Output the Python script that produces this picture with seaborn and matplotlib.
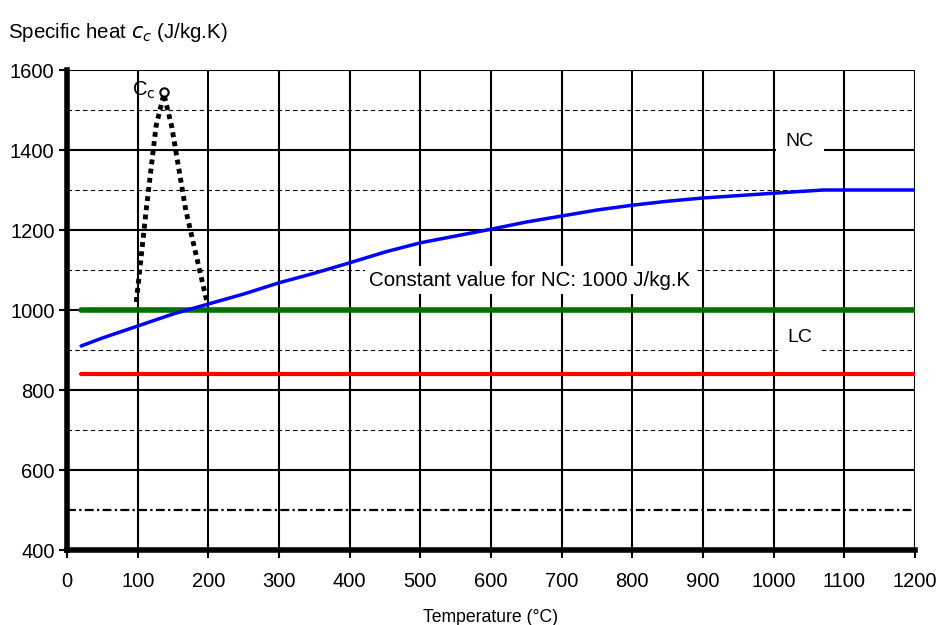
import matplotlib
matplotlib.use("Agg")
from matplotlib import pyplot as plt
import numpy as np
import pandas as pd
import seaborn as sns

# NC specific heat curve
temp_nc = [20, 50, 100, 150, 200, 250, 300, 350, 400, 450, 500, 550, 600, 650, 700, 750, 800, 850, 900, 950, 1000, 1070, 1200]
cp_nc = [910, 930, 960, 990, 1015, 1040, 1068, 1092, 1118, 1145, 1168, 1185, 1202, 1220, 1235, 1250, 1262, 1272, 1280, 1286, 1292, 1300, 1300]

# moisture peak (dotted)
temp_peak = [98, 112, 126, 137, 148, 168, 198]
cp_peak = [1020, 1250, 1460, 1540, 1460, 1250, 1020]

temp_range = [20, 1200]
cp_const_nc = 1000
cp_lc = 840

sns.set_style("white")
plt.rcParams['font.family'] = ['Liberation Sans', 'DejaVu Sans']
plt.rcParams['text.color'] = 'black'
plt.rcParams['axes.labelcolor'] = 'black'
plt.rcParams['xtick.color'] = 'black'
plt.rcParams['ytick.color'] = 'black'

fig = plt.figure(figsize=(9.43, 6.25), dpi=100)
ax = fig.add_axes([0.0711, 0.12, 0.8992, 0.768])

# grid
for y in [700, 900, 1100, 1300, 1500]:
    ax.axhline(y, color='black', lw=0.8, ls=(0, (4, 3)), zorder=1)
ax.axhline(500, color='black', lw=1.6, ls=(0, (4, 1.5, 1, 1.5)), zorder=1)
for y in [600, 800, 1000, 1200, 1400, 1600]:
    ax.axhline(y, color='black', lw=1.5, zorder=1)
for x in range(100, 1300, 100):
    ax.axvline(x, color='black', lw=1.5, zorder=1)

ax.plot(temp_range, [cp_const_nc] * 2, color='#007000', lw=4, zorder=3)
ax.plot(temp_range, [cp_lc] * 2, color='#ff0000', lw=3, zorder=3)

sns.lineplot(x=temp_nc, y=cp_nc, ax=ax, color='#0000ff', lw=2.5, zorder=4)
sns.lineplot(x=temp_peak, y=cp_peak, ax=ax, color='black', lw=3.5, ls=(0, (1, 0.9)), zorder=4)
ax.plot([temp_peak[3]], [cp_peak[3] + 5], marker='o', ms=6, mfc='white', mec='black', mew=1.5, zorder=5)

box = dict(facecolor='white', edgecolor='none', pad=3)
ax.text(108, 1550, r'C$_{\rm c}$', fontsize=14.5, ha='center', va='center', zorder=6)
ax.text(1037, 1422, 'NC', fontsize=14, ha='center', va='center', bbox=dict(facecolor='white', edgecolor='none', pad=7), zorder=6)
ax.text(1037, 930, 'LC', fontsize=14, ha='center', va='center', bbox=dict(facecolor='white', edgecolor='none', pad=7), zorder=6)
ax.text(655, 1075, 'Constant value for NC: 1000 J/kg.K', fontsize=14.8, ha='center', va='center', bbox=box, zorder=6)

ax.set_xlim(0, 1200)
ax.set_ylim(400, 1600)
ax.set_xticks(range(0, 1300, 100))
ax.set_yticks(range(400, 1700, 200))
ax.tick_params(axis='both', labelsize=14.5, length=6, width=1.5, color='black', direction='out', left=True, bottom=True)
ax.tick_params(axis='x', pad=10)
ax.tick_params(axis='y', pad=3)
ax.set_xlabel('Temperature (°C)', fontsize=12.7, labelpad=13)
fig.text(0.008, 0.948, r'Specific heat $c_c$ (J/kg.K)', fontsize=14.8, ha='left', va='center')

for s in ['top', 'right']:
    ax.spines[s].set_visible(False)
ax.spines['left'].set_linewidth(4)
ax.spines['bottom'].set_linewidth(4)
ax.spines['left'].set_color('black')
ax.spines['bottom'].set_color('black')

fig.savefig('out.png', dpi=100, facecolor='white')
